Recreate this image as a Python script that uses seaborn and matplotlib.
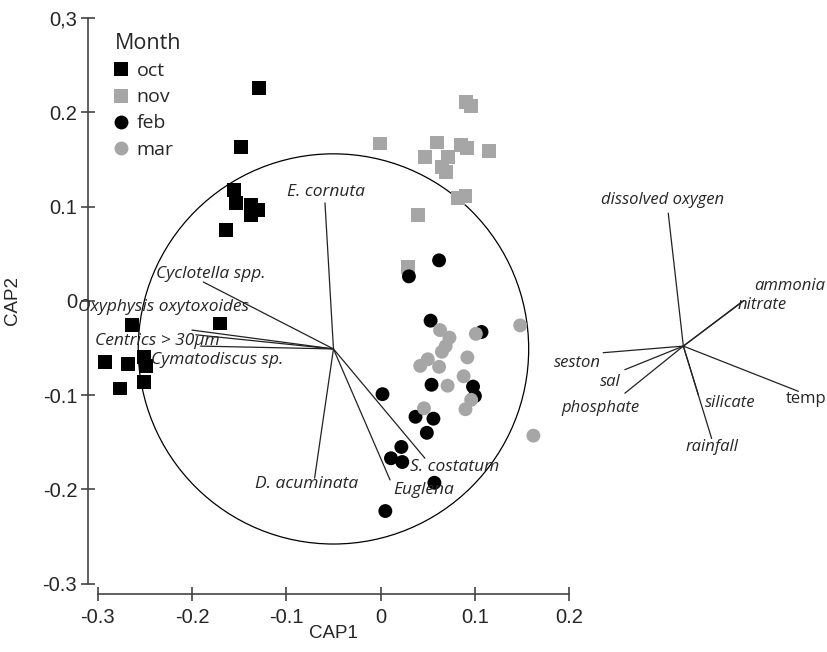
import pandas as pd
import seaborn as sns
import matplotlib.pyplot as plt
from matplotlib.patches import Circle

# sample scores (CAP1, CAP2) per month
oct_x = [-0.129, -0.148, -0.155, -0.153, -0.137, -0.130, -0.137, -0.164,
         -0.264, -0.170, -0.292, -0.268, -0.251, -0.249, -0.251, -0.276]
oct_y = [0.226, 0.163, 0.118, 0.104, 0.102, 0.096, 0.091, 0.075,
         -0.026, -0.024, -0.065, -0.067, -0.060, -0.069, -0.086, -0.093]
nov_x = [0.091, 0.096, -0.001, 0.060, 0.085, 0.092, 0.115, 0.047,
         0.071, 0.065, 0.069, 0.090, 0.082, 0.040, 0.029]
nov_y = [0.211, 0.207, 0.167, 0.168, 0.165, 0.162, 0.159, 0.153,
         0.153, 0.142, 0.137, 0.111, 0.109, 0.091, 0.036]
feb_x = [0.062, 0.030, 0.053, 0.107, 0.054, 0.098, 0.100, 0.002,
         0.037, 0.056, 0.049, 0.022, 0.011, 0.023, 0.057, 0.005]
feb_y = [0.043, 0.026, -0.021, -0.033, -0.089, -0.091, -0.101, -0.099,
         -0.123, -0.125, -0.140, -0.155, -0.167, -0.171, -0.193, -0.223]
mar_x = [0.063, 0.073, 0.069, 0.065, 0.101, 0.148, 0.092, 0.050,
         0.042, 0.062, 0.088, 0.071, 0.096, 0.090, 0.046, 0.162]
mar_y = [-0.031, -0.039, -0.048, -0.054, -0.035, -0.026, -0.060, -0.062,
         -0.069, -0.070, -0.080, -0.090, -0.105, -0.115, -0.114, -0.143]

months = ['oct', 'nov', 'feb', 'mar']

# species vectors (end points), all drawn from the same origin
species = ['E. cornuta', 'Cyclotella spp.', 'Oxyphysis oxytoxoides', 'Centrics > 30µm',
           'Cymatodiscus sp.', 'D. acuminata', 'Euglena', 'S. costatum']
species_x = [-0.059, -0.188, -0.200, -0.196, -0.191, -0.070, 0.010, 0.047]
species_y = [0.104, 0.020, -0.031, -0.036, -0.048, -0.188, -0.190, -0.167]
species_origin = (-0.050, -0.051)
circle_r = 0.207

# environmental vectors
env = ['dissolved oxygen', 'ammonia', 'nitrate', 'seston', 'sal',
       'phosphate', 'silicate', 'rainfall', 'temp']
env_x = [0.305, 0.385, 0.383, 0.236, 0.259, 0.259, 0.337, 0.351, 0.443]
env_y = [0.093, 0.000, -0.001, -0.055, -0.073, -0.098, -0.100, -0.146, -0.096]
env_origin = (0.321, -0.048)

df = pd.DataFrame({
    'CAP1': oct_x + nov_x + feb_x + mar_x,
    'CAP2': oct_y + nov_y + feb_y + mar_y,
    'Month': ['oct'] * len(oct_x) + ['nov'] * len(nov_x)
             + ['feb'] * len(feb_x) + ['mar'] * len(mar_x),
})

# label placement (x, y, ha)
species_lab = {
    'E. cornuta': (-0.058, 0.116, 'center'),
    'Cyclotella spp.': (-0.238, 0.029, 'left'),
    'Oxyphysis oxytoxoides': (-0.321, -0.006, 'left'),
    'Centrics > 30µm': (-0.303, -0.043, 'left'),
    'Cymatodiscus sp.': (-0.243, -0.063, 'left'),
    'D. acuminata': (-0.078, -0.194, 'center'),
    'Euglena': (0.013, -0.201, 'left'),
    'S. costatum': (0.031, -0.176, 'left'),
}
env_lab = {
    'dissolved oxygen': (0.299, 0.107, 'center'),
    'ammonia': (0.471, 0.016, 'right'),
    'nitrate': (0.379, -0.004, 'left'),
    'seston': (0.234, -0.066, 'right'),
    'sal': (0.254, -0.086, 'right'),
    'phosphate': (0.192, -0.114, 'left'),
    'silicate': (0.344, -0.108, 'left'),
    'rainfall': (0.351, -0.155, 'center'),
    'temp': (0.430, -0.104, 'left'),
}

sns.set_style('ticks')
plt.rcParams['font.family'] = ['Liberation Sans', 'DejaVu Sans']

fig = plt.figure(figsize=(8.28, 6.52), dpi=100)
ax = fig.add_axes([0.1066, 0.0890, 0.8884, 0.9049])

sns.scatterplot(data=df, x='CAP1', y='CAP2', hue='Month', style='Month',
                hue_order=months, style_order=months,
                palette={'oct': 'black', 'nov': '#a6a6a6', 'feb': 'black', 'mar': '#a6a6a6'},
                markers={'oct': 's', 'nov': 's', 'feb': 'o', 'mar': 'o'},
                s=100, linewidth=0, ax=ax, zorder=3)

ax.add_patch(Circle(species_origin, circle_r, fill=False, ec='black', lw=0.9, zorder=2))

ox, oy = species_origin
for name, x, y in zip(species, species_x, species_y):
    ax.plot([ox, x], [oy, y], color='#222222', lw=0.9, zorder=2)
    tx, ty, ha = species_lab[name]
    ax.text(tx, ty, name, ha=ha, va='center', fontsize=12.5, style='italic',
            family='Open Sans', zorder=4)

ex, ey = env_origin
for name, x, y in zip(env, env_x, env_y):
    ax.plot([ex, x], [ey, y], color='#222222', lw=0.9, zorder=2)
    tx, ty, ha = env_lab[name]
    ax.text(tx, ty, name, ha=ha, va='center', fontsize=12,
            style='normal' if name == 'temp' else 'italic', family='Open Sans')

ax.set_xlim(-0.310, 0.470)
ax.set_ylim(-0.311, 0.315)
ax.set_xticks([-0.3, -0.2, -0.1, 0, 0.1, 0.2])
ax.set_xticklabels(['-0.3', '-0.2', '-0.1', '0', '0.1', '0.2'])
ax.set_yticks([-0.3, -0.2, -0.1, 0, 0.1, 0.2, 0.3])
ax.set_yticklabels(['-0.3', '-0.2', '-0.1', '0', '0.1', '0.2', '0,3'])

for side in ['top', 'right']:
    ax.spines[side].set_visible(False)
ax.spines['bottom'].set_bounds(-0.3, 0.2)
ax.spines['left'].set_bounds(-0.3, 0.3)
for side in ['bottom', 'left']:
    ax.spines[side].set_color('#444444')
    ax.spines[side].set_linewidth(1.2)
ax.tick_params(direction='inout', length=10, width=1.2, color='#444444', labelsize=14.5)
ax.tick_params(axis='x', pad=5)
ax.tick_params(axis='y', pad=3)

ax.set_xlabel('CAP1', fontsize=13.5)
ax.set_ylabel('CAP2', fontsize=13.5)
ax.xaxis.set_label_coords(0.333, -0.053)
ax.yaxis.set_label_coords(-0.0915, 0.497)

leg = ax.legend(title='Month', loc='upper left', bbox_to_anchor=(0.025, 0.964),
                frameon=False, fontsize=14, title_fontsize=15.5, alignment='left',
                handlelength=0.7, handletextpad=0.45, labelspacing=0.42, borderaxespad=0)
for t in leg.get_texts():
    t.set_family('Open Sans')
leg.get_title().set_family('Open Sans')

fig.savefig('out.png', dpi=100)
